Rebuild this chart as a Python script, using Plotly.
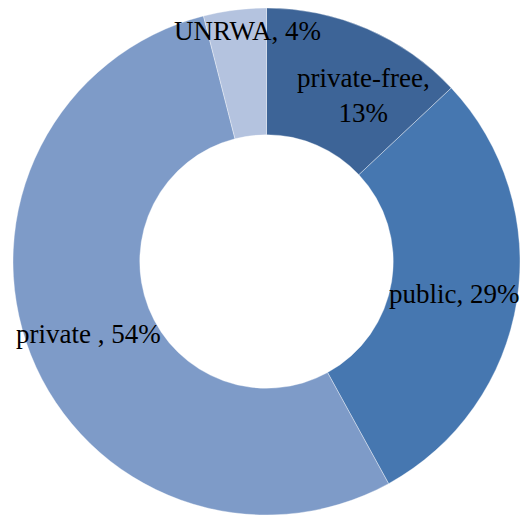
import math
import plotly.graph_objects as go

labels = ["private-free", "public", "private ", "UNRWA"]
values = [13, 29, 54, 4]
label_texts = ["private-free,<br>13%", "public, 29%", "private , 54%", "UNRWA, 4%"]
colors = ["#3D6497", "#4677B0", "#7E9BC8", "#B4C3DF"]

W, H = 521, 515
cx, cy, R = 266.5, 261.5, 253.5
hole = 0.5
label_r = [192, 190, 192, 231]
label_dang = [7.0, 0.8, -0.6, 2.4]

def clamp(v):
    return max(0.0, min(1.0, v))

fig = go.Figure(go.Pie(
    labels=labels, values=values, hole=hole, sort=False, direction="clockwise",
    rotation=0, marker=dict(colors=colors, line=dict(color="rgba(255,255,255,0.6)", width=0.6)),
    textinfo="none", hoverinfo="label+percent", showlegend=False,
    domain=dict(x=[clamp((cx - R) / W), clamp((cx + R) / W)],
                y=[clamp((H - (cy + R)) / H), clamp((H - (cy - R)) / H)]),
))

total = sum(values)
cum = 0
anns = []
for v, t, r, da in zip(values, label_texts, label_r, label_dang):
    mid = (cum + v / 2) / total * 2 * math.pi + math.radians(da)
    cum += v
    px = cx + r * math.sin(mid)
    py = cy - r * math.cos(mid)
    anns.append(dict(x=px / W, y=1 - py / H, xref="paper", yref="paper", text=t,
                     showarrow=False, xanchor="center", yanchor="middle",
                     font=dict(family="Liberation Serif", size=27, color="black")))

fig.update_layout(width=W, height=H, margin=dict(l=0, r=0, t=0, b=0),
                  paper_bgcolor="white", plot_bgcolor="white", annotations=anns)
fig.write_html("out.html")
